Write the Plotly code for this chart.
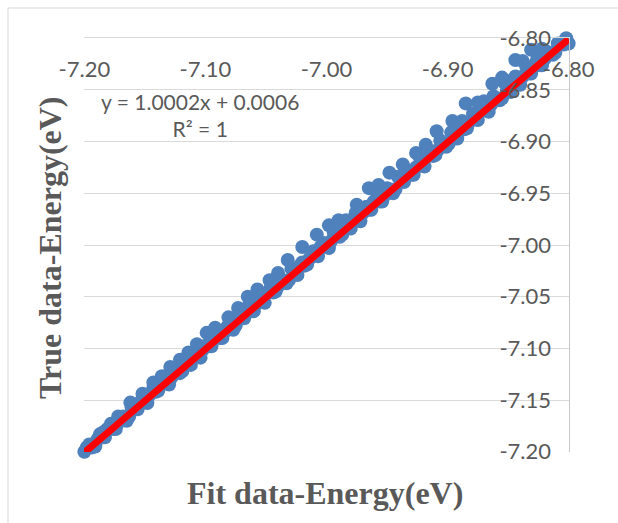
import plotly.graph_objects as go

# Fit (x) vs true (y) energies, eV
fit_x = [-7.200, -7.196, -7.191, -7.187, -7.183, -7.178, -7.174, -7.170, -7.165, -7.161,
         -7.156, -7.152, -7.148, -7.143, -7.139, -7.134, -7.130, -7.126, -7.121, -7.117,
         -7.112, -7.108, -7.104, -7.099, -7.095, -7.090, -7.086, -7.082, -7.077, -7.073,
         -7.068, -7.064, -7.060, -7.055, -7.051, -7.046, -7.042, -7.038, -7.033, -7.029,
         -7.024, -7.020, -7.016, -7.011, -7.007, -7.002, -6.998, -6.994, -6.989, -6.985,
         -6.980, -6.976, -6.972, -6.967, -6.963, -6.958, -6.954, -6.950, -6.945, -6.941,
         -6.936, -6.932, -6.928, -6.923, -6.919, -6.914, -6.910, -6.906, -6.901, -6.897,
         -6.892, -6.888, -6.884, -6.879, -6.875, -6.870, -6.866, -6.862, -6.857, -6.853,
         -6.848, -6.844, -6.840, -6.835, -6.831, -6.826, -6.822, -6.818, -6.813, -6.809,
         -6.804, -6.800,
         -7.184, -7.162, -7.143, -7.129, -7.114, -7.099, -7.081, -7.065, -7.047, -7.032,
         -7.020, -7.008, -6.998, -6.984, -6.965, -6.948, -6.926, -6.909, -6.885, -6.863,
         -6.852, -6.844, -6.831,
         -6.875, -6.896, -6.918, -6.937, -6.957, -6.975, -6.990, -7.040, -7.057, -7.073,
         -7.092, -7.107, -7.121, -7.136, -7.152, -7.172, -6.855, -6.838, -6.822,
         -7.198, -7.194, -7.189, -7.185, -7.181, -7.176, -7.172, -7.168, -7.163, -7.159,
         -7.154, -7.150, -7.146, -7.141, -7.137, -7.132, -7.128, -7.124, -7.119, -7.115,
         -7.110, -7.106, -7.102, -7.097, -7.093, -7.088, -7.084, -7.080, -7.075, -7.071,
         -7.066, -7.062, -7.058, -7.053, -7.049, -7.044, -7.040, -7.036, -7.031, -7.027,
         -7.022, -7.018, -7.014, -7.009, -7.005, -7.000, -6.996, -6.992, -6.987, -6.983,
         -6.978, -6.974, -6.970, -6.965, -6.961, -6.956, -6.952, -6.948, -6.943, -6.939,
         -6.934, -6.930, -6.926, -6.921, -6.917, -6.912, -6.908, -6.904, -6.899, -6.895,
         -6.890, -6.886, -6.882, -6.877, -6.873, -6.868, -6.864, -6.860, -6.855, -6.851,
         -6.846, -6.842, -6.838, -6.833, -6.829, -6.824, -6.820, -6.816, -6.811, -6.807,
         -6.802]
true_y = [-7.200, -7.193, -7.195, -7.183, -7.186, -7.173, -7.178, -7.168, -7.170, -7.157,
          -7.159, -7.149, -7.153, -7.138, -7.141, -7.132, -7.135, -7.120, -7.124, -7.114,
          -7.116, -7.104, -7.109, -7.097, -7.098, -7.085, -7.090, -7.079, -7.082, -7.069,
          -7.071, -7.058, -7.064, -7.052, -7.056, -7.041, -7.045, -7.034, -7.037, -7.023,
          -7.029, -7.017, -7.019, -7.006, -7.011, -6.998, -7.003, -6.988, -6.992, -6.982,
          -6.984, -6.969, -6.977, -6.963, -6.966, -6.952, -6.958, -6.945, -6.950, -6.934,
          -6.939, -6.928, -6.932, -6.915, -6.924, -6.909, -6.913, -6.899, -6.905, -6.891,
          -6.897, -6.880, -6.887, -6.873, -6.879, -6.861, -6.871, -6.856, -6.860, -6.843,
          -6.852, -6.837, -6.845, -6.827, -6.834, -6.820, -6.826, -6.813, -6.816, -6.805,
          -6.806, -6.805,
          -7.181, -7.1525, -7.133, -7.118, -7.104, -7.085, -7.070, -7.050, -7.034, -7.0145,
          -7.002, -6.990, -6.981, -6.976, -6.945, -6.930, -6.911, -6.890, -6.863, -6.844,
          -6.841, -6.821, -6.811,
          -6.862, -6.880, -6.903, -6.922, -6.942, -6.961, -6.976, -7.027, -7.043, -7.061,
          -7.080, -7.096, -7.111, -7.127, -7.144, -7.166, -6.838, -6.822, -6.810,
          -7.196, -7.196, -7.188, -7.186, -7.178, -7.178, -7.172, -7.166, -7.166, -7.158,
          -7.152, -7.152, -7.145, -7.142, -7.134, -7.134, -7.128, -7.122, -7.122, -7.114,
          -7.108, -7.108, -7.101, -7.098, -7.090, -7.090, -7.084, -7.078, -7.078, -7.070,
          -7.064, -7.064, -7.057, -7.054, -7.046, -7.046, -7.040, -7.034, -7.034, -7.026,
          -7.020, -7.020, -7.013, -7.010, -7.002, -7.002, -6.996, -6.990, -6.990, -6.982,
          -6.976, -6.976, -6.969, -6.966, -6.958, -6.958, -6.952, -6.946, -6.946, -6.938,
          -6.932, -6.932, -6.925, -6.922, -6.914, -6.914, -6.908, -6.902, -6.902, -6.894,
          -6.888, -6.888, -6.881, -6.878, -6.870, -6.870, -6.864, -6.858, -6.858, -6.850,
          -6.844, -6.844, -6.837, -6.834, -6.826, -6.826, -6.820, -6.814, -6.814, -6.806,
          -6.800]

# Linear trendline reported on the chart
slope = 1.0002
intercept = 0.0006
trend_x = [-7.20, -6.80]

x_tickvals = [-7.20, -7.10, -7.00, -6.90, -6.80]
x_ticktext = ["-7.20", "-7.10", "-7.00", "-6.90", "-6.80"]
y_tickvals = [-7.20, -7.15, -7.10, -7.05, -7.00, -6.95, -6.90, -6.85, -6.80]
y_ticktext = ["-7.20", "-7.15", "-7.10", "-7.05", "-7.00", "-6.95", "-6.90", "-6.85", "-6.80"]

TXT = "#595959"
GRID = "#D9D9D9"
SANS = "Lato, Calibri, sans-serif"
SERIF = "Liberation Serif, Times New Roman, serif"

fig = go.Figure()
fig.add_trace(go.Scatter(
    x=fit_x, y=true_y, mode="markers",
    marker=dict(size=14, color="#4F81BD", line=dict(width=0)),
    cliponaxis=False, showlegend=False))
fig.add_trace(go.Scatter(
    x=trend_x, y=[slope * v + intercept for v in trend_x], mode="lines",
    line=dict(color="#FF0000", width=7), cliponaxis=False, showlegend=False))

fig.update_layout(
    width=618, height=523,
    margin=dict(l=84, r=49, t=38, b=71),
    paper_bgcolor="white", plot_bgcolor="white",
    font=dict(family=SANS, color=TXT),
    xaxis=dict(range=[-7.2003, -6.7997], side="top", tickvals=x_tickvals, ticktext=x_ticktext,
               ticklabelstandoff=-49,
               showgrid=False, zeroline=False, showline=True, linecolor=GRID, linewidth=1,
               ticks="", tickfont=dict(size=22, color=TXT)),
    yaxis=dict(range=[-7.2003, -6.7997], side="right", tickvals=y_tickvals, ticktext=y_ticktext,
               ticklabelstandoff=-75,
               showgrid=True, gridcolor=GRID, gridwidth=1, zeroline=False,
               showline=True, linecolor="#C8C8C8", linewidth=1,
               ticks="", tickfont=dict(size=22, color=TXT)),
    shapes=[dict(type="rect", xref="paper", yref="paper",
                 x0=-0.1567, x1=1.115, y0=-0.19, y1=1.0725,
                 line=dict(color=GRID, width=1), fillcolor="rgba(0,0,0,0)", layer="below")],
    annotations=[
        dict(text="y = 1.0002x + 0.0006<br>R² = 1", xref="paper", yref="paper",
             x=0.239, y=0.814, xanchor="center", yanchor="middle",
             showarrow=False, align="center",
             font=dict(size=21, color=TXT, family=SANS)),
        dict(text="<b>Fit data-Energy(eV)</b>", xref="paper", yref="paper",
             x=0.497, y=-0.099, xanchor="center", yanchor="middle", showarrow=False,
             font=dict(size=32, color=TXT, family=SERIF)),
        dict(text="<b>True data-Energy(eV)</b>", xref="paper", yref="paper",
             x=-0.070, y=0.493, xanchor="center", yanchor="middle", showarrow=False,
             textangle=-90,
             font=dict(size=32, color=TXT, family=SERIF)),
    ],
)

fig.write_html("out.html")
